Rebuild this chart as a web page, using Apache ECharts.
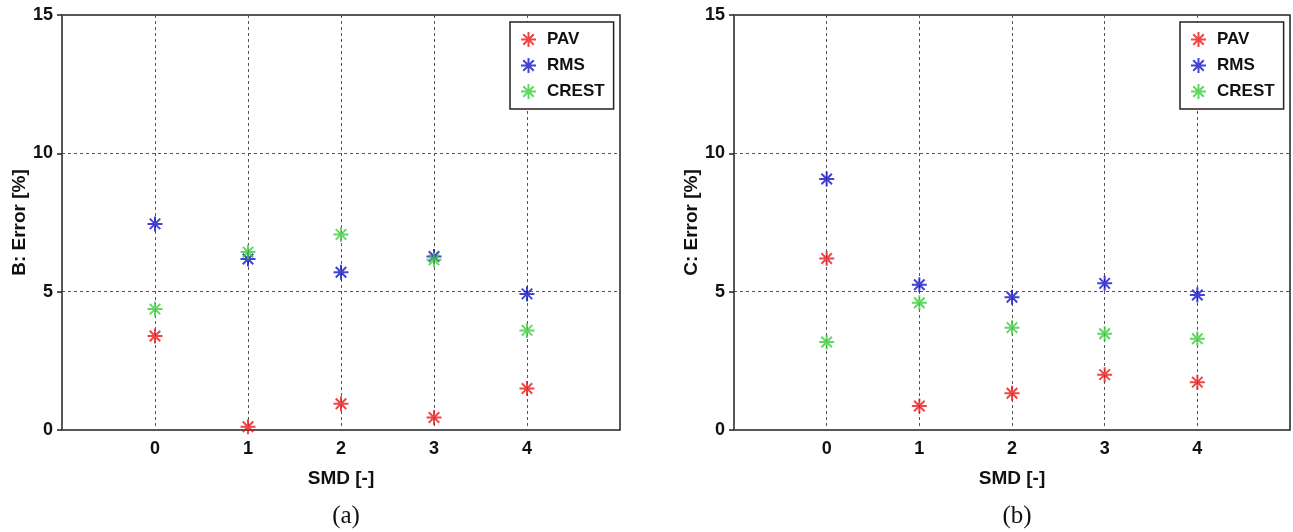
<!DOCTYPE html>
<html>
<head>
<meta charset="utf-8">
<script src="https://cdn.jsdelivr.net/npm/echarts@6/dist/echarts.min.js"></script>
<style>
  html, body { margin: 0; padding: 0; background: #fff; }
  #chart { width: 1293px; height: 532px; }
</style>
</head>
<body>
<div id="chart"></div>
<script>
// data
const smd = [0, 1, 2, 3, 4]
const pavB = [3.4, 0.12, 0.95, 0.45, 1.5]
const rmsB = [7.45, 6.18, 5.7, 6.27, 4.92]
const crestB = [4.37, 6.43, 7.07, 6.15, 3.6]
const pavC = [6.2, 0.87, 1.33, 2.0, 1.73]
const rmsC = [9.07, 5.25, 4.8, 5.3, 4.88]
const crestC = [3.18, 4.6, 3.7, 3.48, 3.3]
const seriesNames = ['PAV', 'RMS', 'CREST']
const colors = ['#e81818', '#1414c4', '#3ecb3e']

const star = 'path://M0,-10L0,10M-10,0L10,0M-7,-7L7,7M-7,7L7,-7'
const font = '"Liberation Sans", Arial, sans-serif'

const chart = echarts.init(document.getElementById('chart'))

function pair(vals) {
  return smd.map((x, i) => [x, vals[i]])
}

function xAxis(gridIndex) {
  return {
    gridIndex,
    type: 'value',
    min: -1,
    max: 5,
    interval: 1,
    name: 'SMD [-]',
    nameLocation: 'middle',
    nameGap: 39,
    nameTextStyle: { fontFamily: font, fontSize: 19, fontWeight: 'bold', color: '#111' },
    axisLine: { show: false, onZero: false },
    axisTick: { show: false },
    axisLabel: {
      margin: 10,
      fontFamily: font, fontSize: 18, fontWeight: 'bold', color: '#111',
      formatter: v => (v < 0 || v > 4 ? '' : v)
    },
    splitLine: { show: true, lineStyle: { color: '#555', type: [3, 3], width: 1 } }
  }
}

function yAxis(gridIndex, name) {
  return {
    gridIndex,
    type: 'value',
    min: 0,
    max: 15,
    interval: 5,
    name,
    nameLocation: 'middle',
    nameGap: 30,
    nameTextStyle: { fontFamily: font, fontSize: 19, fontWeight: 'bold', color: '#111' },
    axisLine: { show: false, onZero: false },
    axisTick: { show: true, inside: false, length: 5, lineStyle: { color: '#222', width: 1.5 } },
    axisLabel: { margin: 9, fontFamily: font, fontSize: 18, fontWeight: 'bold', color: '#111' },
    splitLine: { show: true, lineStyle: { color: '#555', type: [3, 3], width: 1 } }
  }
}

function scatter(name, vals, idx, color) {
  return {
    name,
    type: 'scatter',
    xAxisIndex: idx,
    yAxisIndex: idx,
    symbol: star,
    symbolSize: 15,
    symbolKeepAspect: true,
    itemStyle: { color: color, borderColor: color, borderWidth: 2 },
    data: pair(vals)
  }
}

function legend(left) {
  return {
    data: seriesNames.map(n => ({ name: n, icon: star })),
    orient: 'vertical',
    left,
    top: 22,
    padding: [9, 9, 9, 10],
    itemGap: 9,
    itemWidth: 15,
    itemHeight: 15,
    backgroundColor: '#fff',
    borderColor: '#222',
    borderWidth: 1.5,
    textStyle: { fontFamily: font, fontSize: 17, fontWeight: 'bold', color: '#111', padding: [0, 0, 0, 6] },
    selectedMode: false
  }
}

chart.setOption({
  animation: false,
  title: [
    { text: '(a)', left: 341, top: 499, textAlign: 'center',
      textStyle: { fontFamily: '"Liberation Serif", "DejaVu Serif", serif', fontSize: 25, fontWeight: 'normal', color: '#111' } },
    { text: '(b)', left: 1012, top: 499, textAlign: 'center',
      textStyle: { fontFamily: '"Liberation Serif", "DejaVu Serif", serif', fontSize: 25, fontWeight: 'normal', color: '#111' } }
  ],
  legend: [legend(510), legend(1180)],
  grid: [
    { left: 62, right: 673, top: 15, bottom: 102, show: true, borderColor: '#222', borderWidth: 1.5 },
    { left: 734, right: 2, top: 15, bottom: 102, show: true, borderColor: '#222', borderWidth: 1.5 }
  ],
  xAxis: [xAxis(0), xAxis(1)],
  yAxis: [yAxis(0, 'B: Error [%]'), yAxis(1, 'C: Error [%]')],
  series: [
    scatter('PAV', pavB, 0, colors[0]),
    scatter('RMS', rmsB, 0, colors[1]),
    scatter('CREST', crestB, 0, colors[2]),
    scatter('PAV', pavC, 1, colors[0]),
    scatter('RMS', rmsC, 1, colors[1]),
    scatter('CREST', crestC, 1, colors[2])
  ]
})
</script>
</body>
</html>
